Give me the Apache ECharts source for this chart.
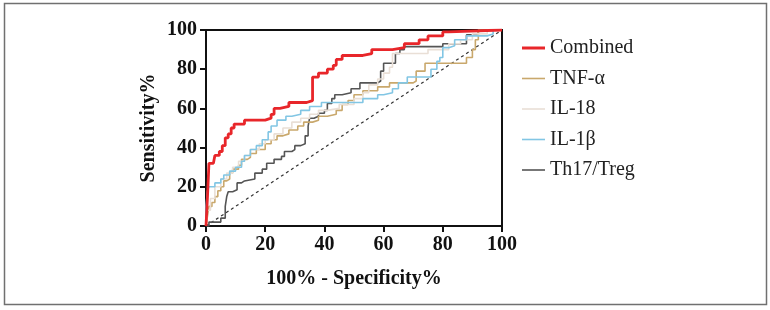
<!DOCTYPE html>
<html>
<head>
<meta charset="utf-8">
<script src="https://cdn.jsdelivr.net/npm/echarts@6/dist/echarts.min.js"></script>
<style>
  html, body { margin: 0; padding: 0; background: #fff; }
  #chart { width: 770px; height: 310px; }
</style>
</head>
<body>
<div id="chart"></div>
<script>
// ROC points: [100% - specificity, sensitivity], y jumps to the value at that x
const combined = [[0,0],[0.5,15],[1,32],[2.5,33],[3,36],[4.5,38],[5.5,41],[6.5,45],[7.5,47],[8.5,50],[9.5,52],[13,54],[20,55],[22,57],[23,60],[25,61],[28,63],[34,64],[36,76],[38,78],[41,80],[43,82],[44,85],[46,87],[53,88],[56,90],[63,91],[67,93],[72,95],[75,97],[80,99],[82,100],[100,100]];
const tnfa = [[0,0],[0.5,5],[1,10],[2,12],[3,15],[4,18],[5,20],[6,23],[7,24],[8,27],[9,29],[11,31],[12,34],[14,35],[15,37],[17,39],[20,42],[22,44],[24,46],[26,47],[28,49],[31,51],[33,53],[36,54],[38,56],[41,57],[44,59],[46,62],[48,64],[50,67],[53,69],[58,71],[62,73],[70,74],[71,79],[74,83],[87,83],[88,86],[90,90],[91,95],[92,100],[100,100]];
const il18 = [[0,0],[0.5,8],[1.5,14],[3,20],[5,24],[7,27],[9,30],[11,33],[13,36],[15,39],[18,42],[20,44],[23,47],[26,50],[29,53],[32,55],[35,57],[38,59],[41,60],[45,62],[50,65],[53,68],[55,72],[58,75],[60,78],[62,81],[63,88],[73,88],[75,90],[82,93],[86,95],[90,98],[95,100],[100,100]];
const il1b = [[0,0],[0,10],[0.5,18],[1,20],[3,22],[5,24],[6,26],[8,28],[10,30],[12,33],[13,36],[15,39],[17,41],[19,44],[21,48],[22,51],[24,54],[27,56],[29,57],[32,59],[35,61],[39,63],[50,63],[53,65],[58,67],[60,68],[63,70],[65,73],[68,76],[75,76],[76,80],[78,84],[79,86],[80,91],[82,92],[84,95],[88,97],[95,98],[97,100],[100,100]];
const th17treg = [[0,0],[1,2],[4,2],[5,4],[6.5,10],[7,15],[7.5,17.5],[9,18.5],[10.5,22],[12,23],[13,24],[16.5,27],[19,29],[20.5,32],[23,34],[25.5,35.5],[26.5,38],[29,39],[30,41],[32,42],[33.5,46],[34.5,51],[35,55],[36.5,56],[38,57.5],[40,59],[41,62.5],[42.5,65],[43.5,67],[46,68],[49,70],[52,73],[58,74],[59,79],[60,83],[64,88],[65.5,90],[67,91.5],[80,93],[88,97.5],[92,100],[100,100]];
const chance = [[0,0],[100,100]];

const seriesNames = ['Combined', 'TNF-α', 'IL-18', 'IL-1β', 'Th17/Treg'];
const xTicks = [0, 20, 40, 60, 80, 100];

const chart = echarts.init(document.getElementById('chart'));
const serif = 'Liberation Serif';
const thinIcon = 'path://M0,0H23V1.6H0Z';
const thickIcon = 'path://M0,0H23V3H0Z';

function roc(name, data, color, width, z) {
  return {
    name: name,
    type: 'line',
    step: 'end',
    data: data,
    symbol: 'none',
    z: z,
    lineStyle: { color: color, width: width },
    itemStyle: { color: color }
  };
}

const option = {
  animation: false,
  graphic: [{
    type: 'rect',
    shape: { x: 4.5, y: 3.5, width: 762, height: 301 },
    style: { fill: 'none', stroke: '#707070', lineWidth: 1.5 },
    silent: true
  }],
  grid: {
    left: 206, top: 30, width: 296, height: 196,
    show: true, borderColor: '#111', borderWidth: 2
  },
  legend: {
    orient: 'vertical',
    left: 517, top: 33,
    itemWidth: 23, itemHeight: 14, itemGap: 10.5,
    data: seriesNames.map((n, i) => ({ name: n, icon: i === 0 ? thickIcon : thinIcon })),
    textStyle: { fontFamily: serif, fontSize: 20, color: '#222' }
  },
  xAxis: {
    type: 'value', min: 0, max: 100, interval: 20,
    name: '100% - Specificity%', nameLocation: 'middle', nameGap: 43,
    nameTextStyle: { fontFamily: serif, fontWeight: 'bold', fontSize: 20, color: '#111' },
    axisLine: { lineStyle: { color: '#111', width: 2 } },
    axisTick: { length: 6, lineStyle: { width: 2, color: '#111' } },
    axisLabel: { fontFamily: serif, fontWeight: 'bold', fontSize: 20, color: '#111', margin: 9,
      formatter: v => xTicks.includes(v) ? String(v) : '' },
    splitLine: { show: false }
  },
  yAxis: {
    type: 'value', min: 0, max: 100, interval: 20,
    name: 'Sensitivity%', nameLocation: 'middle', nameGap: 47,
    nameTextStyle: { fontFamily: serif, fontWeight: 'bold', fontSize: 20, color: '#111' },
    axisLine: { show: true, lineStyle: { color: '#111', width: 2 } },
    axisTick: { show: true, length: 6, lineStyle: { width: 2, color: '#111' } },
    axisLabel: { fontFamily: serif, fontWeight: 'bold', fontSize: 20, color: '#111', margin: 9 },
    splitLine: { show: false }
  },
  series: [
    {
      type: 'line', data: chance, symbol: 'none', silent: true, z: 1,
      lineStyle: { color: '#333', width: 1.2, type: [3, 3] }
    },
    roc('Th17/Treg', th17treg, '#555555', 1.6, 2),
    roc('TNF-α', tnfa, '#c9a86c', 1.6, 3),
    roc('IL-18', il18, '#e9dfd6', 1.6, 4),
    roc('IL-1β', il1b, '#82c6e4', 1.6, 5),
    roc('Combined', combined, '#e8262a', 2.8, 6)
  ]
};

chart.setOption(option);
</script>
</body>
</html>
